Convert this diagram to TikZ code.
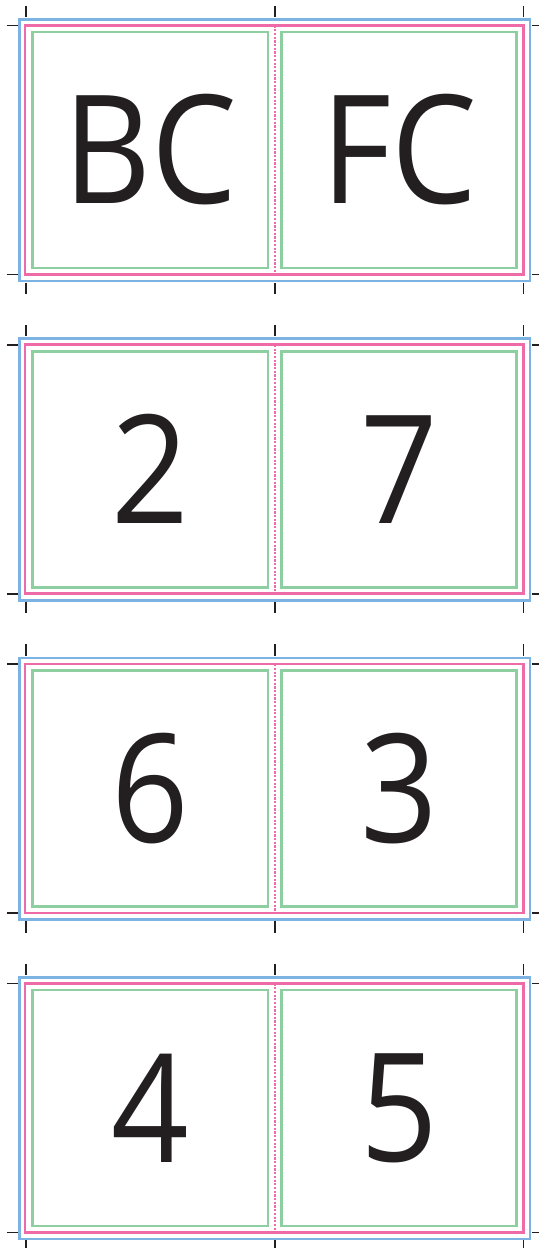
\documentclass[tikz,border=0pt]{standalone}
\usepackage{fontspec}
\setmainfont{Open Sans}[FakeStretch=0.9]
\usetikzlibrary{calc}
\definecolor{bleedblue}{HTML}{7DB3E3}
\definecolor{trimpink}{HTML}{EF6BA8}
\definecolor{marggreen}{HTML}{8ECFA2}
\definecolor{inkblack}{HTML}{231F20}
\tikzset{
  imp bleed/.style={draw=bleedblue, line width=2.7pt},
  imp trim/.style={draw=trimpink, line width=2.7pt},
  imp marg/.style={draw=marggreen, line width=2.5pt},
  imp fold/.style={draw=trimpink, line width=1.8pt, dash pattern=on 2.2pt off 1.5pt},
  imp crop/.style={draw=inkblack, line width=1.5pt},
  imp num/.style={font=\fontsize{151}{151}\selectfont, text=inkblack, inner sep=0pt},
}

\begin{document}
\begin{tikzpicture}[x=1pt, y=-1pt]
  \useasboundingbox (0,0) rectangle (539,1248);
  % one spread per row: back/front cover, then the page pairs
  \foreach \i/\l/\r in {0/BC/FC, 1/2/7, 2/6/3, 3/4/5} {
    \pgfmathsetmacro{\t}{19.5+319.3*\i}
    % bleed, trim and margins
    \draw[imp bleed] (19.4,\t) rectangle (530,\t+261.5);
    \draw[imp trim] (25,\t+6) rectangle (523.5,\t+255);
    \draw[imp marg] (32.5,\t+12.5) rectangle (268,\t+248.5);
    \draw[imp marg] (281.5,\t+12.5) rectangle (516.5,\t+248.5);
    \draw[imp fold] (274.8,\t+6) -- (274.8,\t+255);
    % crop marks
    \foreach \x in {26,274.8,523.3} {
      \draw[imp crop] (\x,\t-13.7) -- (\x,\t-2.5);
      \draw[imp crop] (\x,\t+263) -- (\x,\t+274.5);
    }
    \foreach \y in {6,255} {
      \draw[imp crop] (6.7,\t+\y) -- (18.3,\t+\y);
      \draw[imp crop] (531.7,\t+\y) -- (539,\t+\y);
    }
    \node[imp num] (l\i) at (150,\t+130.5) {\l};
    \node[imp num] (r\i) at (399,\t+130.5) {\r};
  }
\end{tikzpicture}
\end{document}
